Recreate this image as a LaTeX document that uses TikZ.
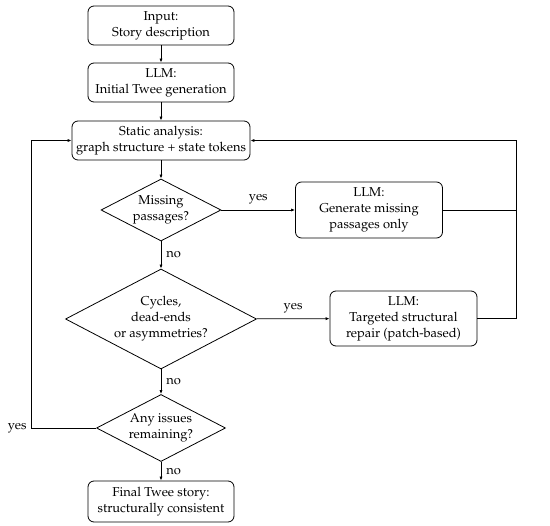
\documentclass[tikz,border=0pt]{standalone}
\usepackage[T1]{fontenc}
\usepackage{mathpazo}
\usetikzlibrary{shapes.geometric,arrows.meta}
\begin{document}
\begin{tikzpicture}[x=1pt,y=-1pt,
  font=\fontsize{12.9}{16}\selectfont,
  every path/.style={line width=0.8pt},
  box/.style={draw,rounded corners=6pt,align=center,inner sep=0pt},
  dec/.style={draw,shape=diamond,aspect=2,align=center,inner sep=0pt},
  arr/.style={-{Latex[length=4pt,width=3.2pt]}},
  lab/.style={inner sep=2pt}]
\useasboundingbox (0,0) rectangle (550,526);
\node[box,minimum width=146pt,minimum height=39pt] (in) at (161,25.5) {Input:\\Story description};
\node[box,minimum width=146pt,minimum height=39pt] (init) at (161,82.5) {LLM:\\Initial Twee generation};
\node[box,minimum width=178pt,minimum height=39pt] (sa) at (161,140.5) {Static analysis:\\graph structure + state tokens};
\node[dec,minimum width=120pt,minimum height=62pt] (miss) at (161,210) {Missing\\passages?};
\node[box,minimum width=147pt,minimum height=56pt] (gen) at (369,210) {LLM:\\Generate missing\\passages only};
\node[dec,minimum width=191pt,minimum height=100pt] (cyc) at (161,319) {Cycles,\\dead-ends\\or asymmetries?};
\node[box,minimum width=147pt,minimum height=55pt] (rep) at (403.5,318.5) {LLM:\\Targeted structural\\repair (patch-based)};
\node[dec,minimum width=129pt,minimum height=67pt] (any) at (161,428) {Any issues\\remaining?};
\node[box,minimum width=146pt,minimum height=41pt] (fin) at (161,501.5) {Final Twee story:\\structurally consistent};
\coordinate (L) at (31,0);
\coordinate (R) at (516,0);
\draw[arr] (in) -- (init);
\draw[arr] (init) -- (sa);
\draw[arr] (sa) -- (miss);
\draw[arr] (miss) -- node[lab,above=3pt]{yes} (gen);
\draw[arr] (miss) -- node[lab,right=3pt]{no} (cyc);
\draw[arr] (cyc) -- node[lab,above=3pt]{yes} (rep);
\draw[arr] (cyc) -- node[lab,right=3pt]{no} (any);
\draw[arr] (any) -- node[lab,right=3pt]{no} (fin);
\draw[arr] (any.west) -- (any.west -| L) node[lab,left=2pt]{yes} |- (sa.west);
\draw[arr] (rep.east) -| (R |- sa.east) -- (sa.east);
\draw (gen.east) -- (gen.east -| R);
\end{tikzpicture}
\end{document}
